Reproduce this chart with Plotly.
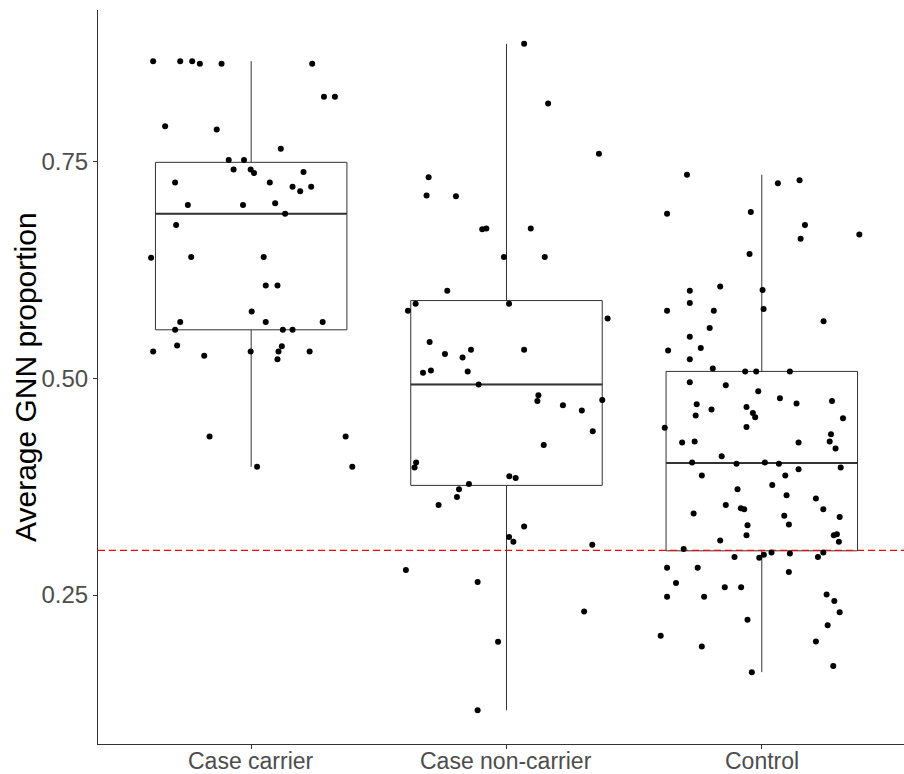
import numpy as np
import plotly.graph_objects as go

categories = ["Case carrier", "Case non-carrier", "Control"]

carrier_values = [0.866, 0.866, 0.866, 0.863, 0.863, 0.863, 0.825, 0.825, 0.791, 0.787,
                  0.765, 0.752, 0.752, 0.741, 0.741, 0.737, 0.738, 0.726, 0.726, 0.721,
                  0.721, 0.716, 0.700, 0.700, 0.702, 0.690, 0.677, 0.639, 0.640, 0.640,
                  0.607, 0.607, 0.577, 0.565, 0.565, 0.565, 0.556, 0.556, 0.556, 0.538,
                  0.537, 0.531, 0.531, 0.531, 0.531, 0.526, 0.522, 0.433, 0.433, 0.398,
                  0.398]
carrier_jitter = [-0.384, -0.278, -0.231, -0.201, -0.116, 0.239, 0.285, 0.328, -0.337, -0.135,
                  0.116, -0.088, -0.028, -0.069, -0.002, 0.011, 0.205, -0.298, 0.073, 0.162,
                  0.235, 0.192, -0.248, -0.032, 0.094, 0.133, -0.294, -0.392, -0.235, 0.049,
                  0.057, 0.103, 0.002, -0.278, 0.057, 0.280, -0.298, 0.124, 0.162, -0.290,
                  0.120, -0.384, -0.002, 0.107, 0.229, -0.184, 0.103, -0.163, 0.370, 0.023,
                  0.396]

noncarrier_values = [0.886, 0.817, 0.759, 0.732, 0.711, 0.710, 0.672, 0.673, 0.673, 0.640,
                     0.640, 0.601, 0.586, 0.586, 0.578, 0.569, 0.542, 0.528, 0.533, 0.524,
                     0.533, 0.5065, 0.509, 0.508, 0.493, 0.4805, 0.474, 0.469, 0.475, 0.463,
                     0.439, 0.423, 0.403, 0.397, 0.387, 0.385, 0.378, 0.372, 0.363, 0.354,
                     0.329, 0.317, 0.3115, 0.308, 0.279, 0.265, 0.231, 0.196, 0.117]
noncarrier_jitter = [0.069, 0.163, 0.362, -0.305, -0.313, -0.198, -0.095, -0.079, 0.095, -0.010,
                     0.150, -0.232, -0.356, 0.010, -0.386, 0.396, -0.301, -0.241, -0.139, -0.172,
                     0.069, -0.327, -0.296, -0.152, -0.109, 0.125, 0.121, 0.221, 0.375, 0.295,
                     0.338, 0.146, -0.354, -0.360, 0.011, 0.036, -0.147, -0.186, -0.194, -0.266,
                     0.069, 0.010, 0.027, 0.336, -0.394, -0.113, 0.304, -0.033, -0.113]

control_values = [0.735, 0.725, 0.7285, 0.690, 0.692, 0.677, 0.661, 0.666, 0.6435, 0.606,
                  0.601, 0.602, 0.587, 0.578, 0.578, 0.580, 0.566, 0.558, 0.548, 0.532,
                  0.535, 0.522, 0.5115, 0.508, 0.508, 0.508,
                  0.4955, 0.492, 0.485, 0.477, 0.471, 0.474, 0.470, 0.464, 0.467, 0.460,
                  0.455, 0.457, 0.454, 0.443, 0.444, 0.4355, 0.426, 0.427, 0.426, 0.427,
                  0.419, 0.410, 0.403, 0.4015, 0.403, 0.4015, 0.395, 0.397, 0.388, 0.388,
                  0.372, 0.377, 0.365, 0.3615, 0.354, 0.350, 0.349, 0.349, 0.344, 0.3415,
                  0.340, 0.3305, 0.3315,
                  0.319, 0.313, 0.319, 0.320, 0.3115, 0.303, 0.294, 0.293, 0.2965, 0.299,
                  0.298, 0.294, 0.299, 0.2815, 0.2815, 0.2765, 0.264, 0.259, 0.259, 0.248,
                  0.248, 0.2505, 0.243, 0.230, 0.2215, 0.215, 0.203, 0.1965, 0.1905, 0.168,
                  0.161]
control_jitter = [-0.293, 0.063, 0.148, -0.371, -0.043, 0.169, 0.152, 0.382, -0.048, -0.163,
                  -0.282, 0.003, -0.282, -0.371, -0.188, 0.007, 0.242, -0.204, -0.282, -0.367,
                  -0.239, -0.282, -0.192, -0.065, -0.022, 0.110,
                  -0.282, -0.141, -0.014, 0.071, 0.136, 0.275, -0.255, -0.197, -0.060, -0.035,
                  -0.026, -0.259, 0.318, -0.380, -0.060, 0.271, -0.312, -0.263, 0.144, 0.266,
                  0.289, -0.157, -0.273, -0.099, 0.012, 0.067, 0.144, 0.309, -0.235, 0.092,
                  -0.095, 0.041, 0.097, 0.212, -0.141, -0.082, -0.069, 0.241, -0.267, 0.088,
                  0.305, -0.056, 0.106,
                  -0.060, -0.163, 0.282, 0.294, 0.302, -0.306, -0.107, -0.010, 0.008, 0.038,
                  0.110, 0.220, 0.241, -0.371, -0.251, 0.106, -0.336, -0.145, -0.081, -0.371,
                  -0.226, 0.254, 0.284, 0.305, -0.056, 0.258, -0.396, 0.212, -0.235, 0.280,
                  -0.039]

threshold = 0.3015
y_tick_values = [0.25, 0.50, 0.75]
y_tick_labels = ["0.25", "0.50", "0.75"]
y_title = "Average GNN proportion"

groups = [
    (carrier_values, carrier_jitter),
    (noncarrier_values, noncarrier_jitter),
    (control_values, control_jitter),
]

BOX_W = 0.75
X_RANGE = [-0.6, 2.557]
Y_RANGE = [0.0781, 0.925]
FONT = "Liberation Sans, Arial, sans-serif"

fig = go.Figure()

# boxes
for i, (vals, _) in enumerate(groups):
    fig.add_trace(go.Box(
        x=[i] * len(vals), y=vals, width=BOX_W,
        boxpoints=False, quartilemethod="linear", whiskerwidth=0,
        fillcolor="white", line=dict(color="#333333", width=1),
        showlegend=False, hoverinfo="skip",
    ))

# thicker median lines (ggplot style)
for i, (vals, _) in enumerate(groups):
    med = float(np.median(vals))
    fig.add_trace(go.Scatter(
        x=[i - BOX_W / 2, i + BOX_W / 2], y=[med, med], mode="lines",
        line=dict(color="#333333", width=2), showlegend=False, hoverinfo="skip",
    ))

# threshold line
fig.add_trace(go.Scatter(
    x=X_RANGE, y=[threshold, threshold], mode="lines",
    line=dict(color="#FF0000", width=1.2, dash="7px,4px"),
    showlegend=False, hoverinfo="skip",
))

# jittered points
for i, (vals, jit) in enumerate(groups):
    fig.add_trace(go.Scatter(
        x=[i + j for j in jit], y=vals, mode="markers",
        marker=dict(color="black", size=6),
        showlegend=False,
    ))

# category labels below the x axis
for i, cat in enumerate(categories):
    fig.add_annotation(
        text=cat, xref="x", yref="paper", x=i, y=0,
        xanchor="center", yanchor="top", yshift=-2, showarrow=False,
        font=dict(family=FONT, size=23, color="#4D4D4D"),
    )

fig.add_annotation(
    text=y_title, textangle=-90, xref="paper", yref="paper",
    x=(25 - 98) / 806, y=0.5, xanchor="center", yanchor="middle",
    showarrow=False, font=dict(family=FONT, size=30, color="black"),
)

fig.update_layout(
    width=904, height=774,
    margin=dict(l=98, r=0, t=10, b=30),
    paper_bgcolor="white", plot_bgcolor="white",
    font=dict(family=FONT),
    xaxis=dict(
        range=X_RANGE, tickmode="array", tickvals=[0, 1, 2], showticklabels=False,
        showgrid=False, zeroline=False, showline=True, linecolor="#333333", linewidth=1,
        ticks="outside", ticklen=4, tickcolor="#333333", automargin=False,
    ),
    yaxis=dict(
        range=Y_RANGE, tickmode="array", tickvals=y_tick_values, ticktext=y_tick_labels,
        showgrid=False, zeroline=False, showline=True, linecolor="#333333", linewidth=1,
        ticks="outside", ticklen=4, tickcolor="#333333", automargin=False,
        tickfont=dict(family=FONT, size=24, color="#4D4D4D"),
    ),
)

fig.write_html("out.html")
